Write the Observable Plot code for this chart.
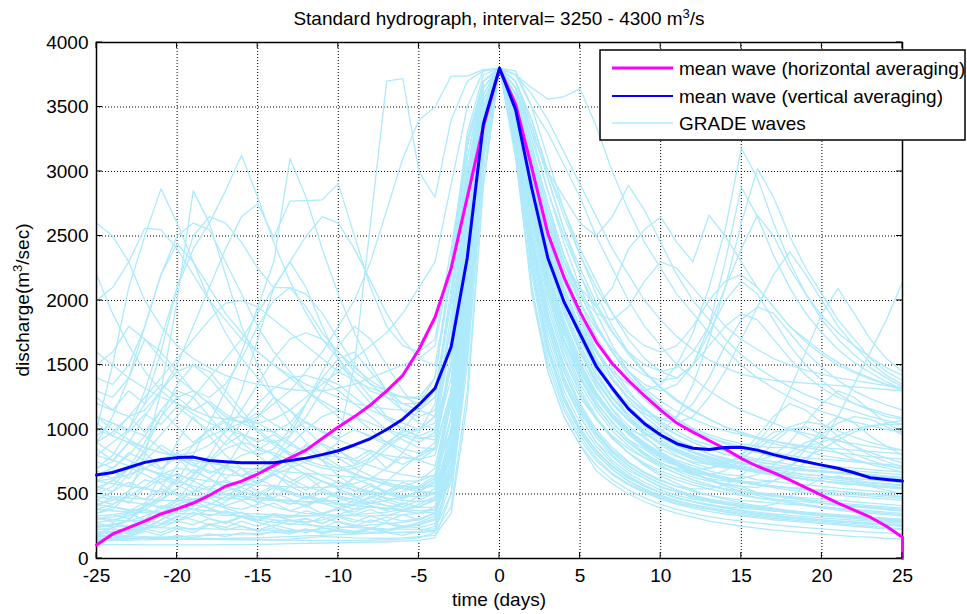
<!DOCTYPE html>
<html><head><meta charset="utf-8">
<script src="https://cdn.jsdelivr.net/npm/d3@7"></script>
<script src="https://cdn.jsdelivr.net/npm/@observablehq/plot@0.6"></script>
<style>body{margin:0;background:#fff}svg{display:block}</style>
</head><body><div id="chart"></div>
<script>
// ---- data ----
const peakDischarge = 3800;
const xTicks = [-25,-20,-15,-10,-5,0,5,10,15,20,25];
const yTicks = [0,500,1000,1500,2000,2500,3000,3500,4000];
const days = [-25,-24,-23,-22,-21,-20,-19,-18,-17,-16,-15,-14,-13,-12,-11,-10,-9,-8,-7,-6,-5,-4,-3,-2,-1,0,1,2,3,4,5,6,7,8,9,10,11,12,13,14,15,16,17,18,19,20,21,22,23,24,25];

// mean wave (horizontal averaging): days -25..25, then the final drop at day 25
const horizDays = [...days, 25];
const horizMean = [105,190,240,290,345,385,430,490,560,600,655,720,780,840,930,1020,1100,1190,1300,1420,1620,1870,2250,2800,3350,3800,3520,3030,2520,2180,1910,1680,1510,1380,1260,1150,1050,980,915,850,775,715,665,610,550,490,430,375,320,250,165,0];
// mean wave (vertical averaging): days -25..25
const vertMean = [647,667,705,745,768,782,786,760,750,742,742,742,760,778,805,835,880,930,1000,1080,1190,1320,1640,2330,3370,3800,3480,2870,2330,1990,1740,1490,1320,1160,1045,957,890,855,845,860,862,840,805,775,750,724,700,665,626,612,600];

// GRADE waves: rising limbs (days -25..-1)
const gradeRise = [
[180,175,170,168,165,160,158,155,150,150,148,145,150,160,170,165,160,158,155,160,170,180,350,1200,2900],
[420,450,520,610,580,500,460,430,400,380,420,520,700,880,760,640,560,500,470,450,440,460,800,1900,3300],
[900,820,760,700,650,600,560,530,500,480,470,460,450,440,430,420,420,430,450,480,520,600,1100,2400,3500],
[250,260,300,420,650,900,1100,950,800,700,620,560,510,480,450,430,410,400,390,380,370,380,600,1600,3200],
[1300,1250,1400,1700,1600,1450,1300,1200,1100,1050,1000,980,1050,1200,1400,1350,1250,1150,1100,1050,1000,1100,1700,2800,3600],
[600,580,560,540,520,500,490,480,470,460,455,450,445,440,440,450,470,520,600,700,800,900,1500,2600,3400],
[150,160,180,220,300,380,420,390,350,320,300,280,270,260,250,245,240,235,230,228,225,230,500,1500,3000],
[2200,1900,1650,1450,1300,1200,1120,1050,1000,960,920,900,950,1100,1300,1500,1400,1250,1100,1000,950,1000,1500,2500,3450],
[350,380,500,800,1300,2000,2850,2600,2200,1800,1500,1250,1050,900,800,720,660,610,570,540,520,510,800,1800,3250],
[700,750,900,1100,1300,1450,1500,1400,1250,1100,980,880,800,740,700,680,700,750,850,950,1000,1050,1700,2700,3500],
[200,210,220,230,260,320,400,520,700,900,1100,1250,1150,1000,880,780,700,640,590,550,520,500,900,2100,3400],
[480,460,440,420,400,390,380,370,360,350,345,340,335,330,330,335,340,350,360,380,400,450,700,1700,3100],
[1100,1050,1000,1200,1600,2100,2500,2650,2600,2450,2250,2100,2100,2050,1900,1700,1500,1350,1250,1150,1100,1150,1800,2900,3650],
[300,320,350,400,480,600,800,1050,1300,1600,1950,2300,3100,2800,2400,2050,1750,1500,1300,1150,1050,1000,1500,2500,3500],
[150,150,155,160,165,170,175,180,185,190,195,200,210,220,230,240,250,260,270,280,300,350,900,2100,3300],
[800,900,1000,950,850,780,720,680,650,640,680,780,950,1200,1450,1650,1800,1700,1500,1300,1150,1100,1900,3000,3700],
[500,560,700,900,1100,1250,1300,1200,1050,900,800,700,620,560,520,480,450,430,410,400,395,400,700,1800,3200],
[1500,1600,1800,1700,1550,1400,1300,1250,1350,1550,1800,2000,2100,1950,1750,1600,1450,1350,1300,1250,1200,1400,2300,3300,3750],
[260,250,245,240,238,235,232,230,228,225,222,220,218,215,212,210,208,205,203,200,200,210,400,1300,2900],
[650,700,800,950,1150,1300,1250,1100,950,850,800,850,1000,1200,1400,1550,1600,1450,1300,1200,1150,1250,2100,3200,3700],
[380,420,480,560,650,700,680,620,560,520,480,450,430,420,450,520,640,780,900,980,1000,1100,1800,2900,3550],
[1000,950,900,860,820,790,760,740,720,700,690,680,670,660,650,640,630,620,610,600,600,650,1200,2400,3450],
[220,240,300,400,550,720,880,1000,1080,1100,1050,980,900,820,760,700,650,610,580,560,550,560,900,2000,3350],
[900,1100,1400,1800,2200,2500,2600,2550,2300,2050,1800,1600,1450,1300,1200,1100,1000,950,900,850,820,850,1300,2500,3500],
[420,400,380,370,360,350,345,340,335,330,325,320,320,330,350,380,420,470,520,560,600,700,1300,2500,3450],
[170,180,200,240,300,360,420,470,500,480,440,400,370,350,340,335,330,330,335,340,350,380,650,1600,3150],
[1200,1150,1100,1150,1300,1500,1800,2100,2400,2650,2750,2490,2770,2775,2780,2906,2500,2100,1800,1650,1600,1700,2400,3200,3700],
[700,800,1000,1300,1700,2100,2400,2600,2850,3126,2800,2450,2150,1900,1700,1550,1400,1300,1250,1200,1200,1300,2000,3000,3650],
[1000,1500,2100,2500,2867,2600,2300,2000,1750,1550,1400,1250,1150,1050,980,920,870,830,800,780,770,800,1300,2500,3500],
[500,480,470,460,450,450,460,480,520,560,600,650,700,750,800,900,1500,2600,3700,3720,3000,2800,3400,3700,3780],
[600,620,650,700,760,820,880,950,1000,1050,1100,1200,1300,1450,1600,1800,2000,2300,2700,3100,3400,3500,3740,3740,3790],
[320,300,290,300,350,450,600,750,850,900,870,800,720,650,600,560,530,510,500,520,560,640,1100,2200,3400],
[140,140,142,145,148,150,150,152,155,158,160,165,170,175,180,185,190,195,200,205,210,220,600,1800,3200],
[1600,1500,1400,1320,1250,1200,1150,1100,1080,1060,1050,1080,1150,1250,1350,1450,1550,1650,1750,1900,2100,2300,2900,3500,3780],
[450,520,650,850,1100,1350,1500,1450,1300,1150,1000,900,820,760,720,700,720,780,880,1000,1150,1300,2000,3000,3650],
[240,260,290,330,380,440,520,620,720,800,840,820,760,700,640,590,550,520,500,490,480,500,850,2000,3350],
[2000,2100,2300,2560,2550,2400,2200,2000,1850,1700,1600,1500,1420,1350,1300,1250,1200,1180,1160,1150,1150,1250,2000,3100,3700],
[380,370,360,355,350,360,380,420,480,560,650,760,880,1000,1100,1150,1100,1000,900,820,760,720,1200,2400,3450],
[170,165,160,158,155,152,150,148,146,145,144,143,142,141,140,140,140,142,145,150,160,200,700,1900,3300],
[800,760,720,690,660,640,620,600,590,580,570,560,555,550,550,560,580,620,700,820,980,1200,2000,3000,3650],
[1400,1350,1500,1800,2200,2440,2300,2100,1900,1750,1600,1500,1400,1300,1220,1150,1100,1050,1000,960,930,950,1500,2700,3600],
[280,300,330,380,450,540,650,800,1000,1300,1700,2100,2300,2100,1800,1550,1350,1200,1080,1000,940,920,1400,2600,3550],
[1100,1000,920,860,820,800,820,880,980,1150,1350,1550,1700,1750,1700,1600,1480,1380,1300,1250,1250,1400,2200,3200,3700],
[550,600,700,820,960,1100,1250,1400,1550,1700,1900,2100,2300,2500,2650,2600,2400,2150,1900,1700,1550,1500,2200,3200,3700],
[2600,2500,2300,2000,1800,1650,1550,1480,1420,1380,1350,1330,1310,1300,1300,1320,1350,1400,1450,1500,1550,1650,2300,3250,3700],
[190,200,215,235,260,290,330,380,440,510,590,670,740,780,800,790,760,720,680,650,630,640,1000,2100,3400],
[900,980,1100,1250,1400,1550,1700,1850,1980,2000,1950,1850,1750,1650,1550,1450,1380,1320,1280,1250,1240,1300,2000,3100,3700],
[330,340,360,400,460,540,640,760,900,1050,1200,1320,1400,1420,1380,1300,1200,1100,1000,920,860,850,1300,2500,3500],
[110,108,107,106,105,105,105,106,107,108,110,112,115,118,120,122,125,128,130,135,140,160,500,1600,3100],
[230,225,220,260,340,420,460,430,390,350,320,300,290,285,300,340,380,400,390,370,350,360,700,1800,3300],
[320,280,350,300,410,380,450,390,330,360,300,340,290,310,270,330,300,280,320,290,310,350,900,2300,3450],
[520,610,560,700,640,580,690,620,540,600,520,470,560,500,450,520,480,430,500,460,520,600,1300,2700,3600],
[160,190,170,210,180,230,200,260,220,250,210,240,200,230,190,220,200,230,210,240,260,300,800,2000,3350],
[850,760,900,820,700,780,660,740,620,700,580,660,560,640,540,600,520,580,500,560,540,620,1200,2500,3550],
[400,480,430,550,500,620,540,480,560,500,430,510,460,400,470,420,380,450,410,370,420,480,1000,2300,3500],
[280,240,300,260,330,290,360,310,270,320,280,250,300,270,240,290,260,230,280,250,270,310,750,1900,3300],
[1050,950,1100,980,1150,1020,900,1000,880,960,840,920,800,880,760,850,730,820,700,790,760,850,1500,2800,3650],
[600,680,620,750,690,820,740,660,720,640,580,650,590,530,600,540,490,560,510,470,520,580,1100,2400,3500],
[200,230,210,260,240,290,260,310,280,330,300,350,320,370,340,390,360,410,380,430,400,460,1000,2200,3400],
[750,700,820,760,880,800,720,790,700,640,710,650,590,660,600,550,620,570,520,590,550,620,1250,2500,3550],
[130,150,140,170,150,180,160,190,170,200,180,210,190,220,200,230,210,240,220,250,240,270,650,1700,3200],
[450,420,500,460,540,490,430,470,410,450,390,430,370,410,350,390,340,380,330,370,350,400,950,2200,3450],
[950,1050,980,1120,1040,1180,1080,990,1060,970,900,960,880,820,890,830,770,840,780,730,790,860,1600,2900,3700],
[240,270,250,300,270,330,300,260,290,250,220,260,230,200,240,210,190,230,200,180,210,250,700,1900,3350],
[680,620,710,650,590,660,600,540,610,550,500,570,520,470,540,490,450,510,460,420,480,540,1100,2400,3500],
[350,400,370,430,390,460,420,490,450,520,480,550,500,460,510,470,430,480,440,400,450,510,1000,2300,3450],
[1250,1150,1300,1200,1350,1250,1150,1220,1120,1050,1130,1040,980,1060,990,930,1000,940,880,950,900,980,1700,2900,3700],
[180,210,190,230,200,250,220,270,240,290,250,300,260,310,270,320,280,330,290,340,300,350,850,2100,3400],
[560,520,590,540,620,570,510,560,500,450,510,460,420,480,430,390,450,410,370,430,400,460,1000,2300,3500],
[300,340,310,380,350,420,380,330,370,320,290,340,300,270,320,280,250,300,270,240,280,330,850,2100,3400]
];

// GRADE waves: falling limbs (days 1..25)
const gradeFall = [
[3100,2100,1450,1100,880,680,580,500,440,390,350,320,290,270,250,235,220,210,200,190,180,170,165,155,150],
[3500,2900,2300,1900,1600,1350,1150,1000,880,790,720,660,610,570,540,510,490,470,450,430,410,400,390,380,370],
[3400,2700,2100,1700,1400,1180,1020,900,800,720,660,610,570,530,500,470,450,430,410,390,375,360,350,340,330],
[3600,3100,2600,2200,1850,1550,1300,1100,950,830,740,670,610,560,520,490,460,440,420,400,385,370,360,350,340],
[3700,3400,3000,2700,2400,2150,1900,1700,1550,1450,1400,1500,1750,2000,2150,2050,1850,1650,1500,1380,1280,1200,1150,1100,1080],
[3300,2400,1800,1400,1150,960,820,720,640,580,530,490,460,430,410,390,370,355,340,330,320,310,300,290,280],
[3550,2950,2400,2000,1700,1450,1250,1100,980,880,800,740,700,720,800,950,1100,1200,1150,1050,950,870,800,750,710],
[3750,3500,3300,3050,2800,2500,2250,2000,1800,1650,1500,1400,1300,1220,1150,1100,1050,1000,970,940,910,890,870,850,840],
[3450,2800,2200,1750,1450,1220,1050,920,820,740,680,630,600,580,560,550,600,700,850,1000,1100,1050,950,870,800],
[3750,3650,3560,3580,3642,3350,3000,2700,2450,2250,2050,1900,1750,1620,1500,1400,1320,1250,1190,1140,1100,1060,1030,1000,980],
[3500,2900,2400,2050,1800,1600,1450,1350,1300,1350,1500,1750,2100,2550,3182,2950,2600,2300,2050,1850,1700,1580,1480,1400,1330],
[3400,2700,2100,1700,1450,1250,1100,1000,950,980,1100,1350,1700,2100,2600,3022,2800,2500,2250,2050,1850,1700,1550,1450,1380],
[3650,3300,3000,2800,2600,2500,2650,2893,2700,2450,2200,2000,1850,1700,1580,1480,1400,1330,1270,1220,1180,1140,1100,1070,1040],
[3500,3000,2600,2300,2100,1950,2100,2400,2550,2648,2450,2300,2661,2500,2300,2100,1950,1800,1700,1600,1520,1450,1400,1350,1300],
[3300,2500,1900,1500,1250,1080,950,850,780,730,700,690,700,740,800,900,1050,1300,1600,1900,2092,1900,1700,1550,1450],
[3400,2700,2150,1750,1450,1250,1100,980,880,800,740,690,650,620,600,590,600,650,750,900,1100,1350,1600,1850,2144],
[3550,3000,2500,2100,1800,1550,1380,1250,1150,1080,1050,1100,1250,1450,1700,1950,2200,2377,2200,2000,1800,1650,1520,1420,1350],
[3600,3150,2700,2350,2050,1800,1600,1450,1350,1300,1350,1500,1800,2300,2880,2650,2350,2100,1900,1750,1620,1520,1440,1370,1310],
[3250,2300,1650,1250,1000,830,710,620,560,510,470,440,410,390,370,350,335,320,310,300,290,280,270,262,255],
[3500,2850,2250,1800,1500,1270,1100,980,880,800,740,690,650,620,590,570,550,530,510,500,490,480,470,460,450],
[3450,2750,2150,1700,1400,1180,1020,900,810,740,690,660,650,680,760,880,980,1000,950,880,820,770,730,700,670],
[3700,3350,2950,2550,2200,1900,1650,1450,1300,1180,1080,1000,940,890,850,820,790,770,750,730,710,700,690,680,670],
[3200,2200,1550,1180,950,780,660,580,520,470,430,400,380,360,340,325,310,300,290,280,270,260,250,240,230],
[3650,3200,2750,2350,2000,1700,1480,1300,1160,1050,960,900,850,810,780,760,800,900,1050,1200,1300,1250,1150,1050,980],
[3550,2950,2450,2050,1750,1500,1300,1150,1030,940,870,820,780,750,730,720,710,700,690,680,670,660,650,640,630],
[3350,2550,1950,1550,1280,1080,930,820,740,680,630,590,560,540,520,500,490,480,470,460,450,440,430,420,410],
[3700,3400,3000,2650,2350,2100,1900,1750,1650,1600,1650,1800,2000,2150,2200,2100,1950,1800,1680,1580,1500,1440,1390,1350,1320],
[3600,3100,2650,2300,2050,1900,1850,1950,2150,2300,2250,2100,1950,1800,1700,1620,1550,1500,1460,1430,1400,1380,1360,1340,1320],
[3300,2450,1800,1380,1100,900,760,660,590,530,490,460,440,420,410,400,420,480,560,620,640,600,560,530,500],
[3780,3500,3100,2700,2350,2050,1800,1600,1450,1330,1230,1150,1080,1020,970,930,890,860,830,800,780,760,740,720,700],
[3400,2650,2050,1620,1320,1100,940,820,720,640,580,530,490,460,430,410,390,370,355,340,330,320,310,300,290],
[3500,2900,2350,1950,1650,1420,1250,1120,1020,940,880,830,790,760,740,730,740,780,860,960,1050,1100,1080,1020,960],
[3150,2050,1450,1100,880,720,610,530,470,420,380,350,325,305,290,275,262,250,240,230,220,212,205,198,192],
[3750,3600,3400,3150,2900,2650,2400,2200,2000,1850,1720,1620,1540,1480,1430,1400,1380,1370,1360,1350,1340,1330,1320,1310,1300],
[3450,2800,2250,1850,1550,1330,1160,1030,930,850,790,750,730,740,780,850,940,1020,1060,1040,990,940,900,870,840],
[3350,2600,2000,1580,1290,1080,930,820,730,660,610,570,540,510,490,470,460,450,440,430,420,410,400,390,380],
[3600,3050,2600,2250,1980,1780,1620,1500,1420,1380,1400,1500,1650,1800,1900,1850,1700,1550,1420,1320,1250,1200,1160,1120,1090],
[3250,2350,1700,1300,1050,870,740,640,570,510,470,440,420,400,390,380,370,360,350,340,330,320,310,300,290],
[3500,2850,2300,1900,1600,1370,1200,1070,970,890,830,780,740,710,690,680,690,720,780,850,920,980,1020,1050,1070],
[3700,3300,2850,2450,2100,1820,1600,1420,1280,1170,1080,1010,960,920,890,870,860,860,870,900,950,1000,1030,1040,1040],
[3400,2700,2150,1750,1460,1250,1090,970,870,790,730,680,640,610,590,570,560,550,540,530,520,510,500,490,480],
[3300,2450,1850,1450,1180,980,840,740,660,600,560,540,540,570,640,760,900,1000,1020,960,880,810,760,720,690],
[3550,3000,2500,2100,1780,1530,1330,1180,1060,960,880,820,770,730,700,680,670,660,650,640,630,620,610,600,590],
[3200,2250,1620,1230,980,810,690,600,530,480,440,410,385,365,350,335,320,310,300,290,280,272,265,258,250],
[3650,3250,2850,2500,2200,1950,1750,1600,1500,1450,1480,1600,1800,2100,2400,2660,2500,2250,2050,1880,1750,1650,1560,1480,1420],
[3450,2750,2200,1780,1480,1260,1090,960,860,780,720,670,640,620,620,650,720,820,900,940,920,870,820,780,740],
[3350,2500,1900,1480,1200,1000,860,750,670,610,560,520,490,470,450,440,430,420,410,400,390,380,370,360,350],
[3600,3100,2650,2250,1900,1620,1400,1230,1100,1000,920,860,810,770,740,720,700,690,680,670,660,650,640,630,620],
[3150,2100,1500,1150,920,760,650,570,510,460,420,390,365,345,330,315,300,290,280,270,260,250,240,230,225],
[3500,2900,2400,2000,1700,1480,1320,1200,1120,1080,1100,1200,1400,1650,1850,1950,1900,1750,1600,1480,1380,1300,1240,1190,1150],
[3400,2700,2100,1700,1420,1200,1060,920,850,760,720,650,620,570,560,510,500,470,460,430,420,400,395,380,370],
[3550,2950,2400,2000,1700,1480,1300,1180,1060,990,910,870,810,780,740,720,690,670,650,640,620,610,590,580,570],
[3300,2400,1750,1350,1100,900,790,680,620,550,520,470,450,420,400,390,370,360,345,340,325,320,310,305,300],
[3600,3100,2600,2200,1880,1620,1440,1280,1170,1060,990,920,880,830,800,770,750,730,710,700,690,680,670,660,650],
[3450,2750,2200,1800,1500,1280,1120,990,900,820,760,720,680,650,640,610,600,580,570,560,545,535,525,515,505],
[3250,2300,1650,1260,1010,840,720,630,560,510,470,440,415,395,375,360,345,335,325,315,305,298,290,283,276],
[3650,3200,2750,2350,2050,1800,1600,1450,1320,1220,1140,1080,1030,990,960,930,910,890,870,860,850,840,830,820,810],
[3500,2850,2300,1900,1600,1380,1200,1070,970,890,820,770,730,700,720,690,650,640,610,600,580,570,560,550,540],
[3400,2650,2050,1650,1350,1150,990,870,780,710,660,610,570,540,520,500,480,470,455,445,430,420,410,400,390],
[3600,3050,2550,2150,1850,1600,1400,1250,1130,1030,960,900,850,810,780,750,730,710,690,680,665,650,640,630,620],
[3200,2250,1600,1220,980,810,690,600,540,490,450,420,395,375,360,345,330,320,310,300,292,284,276,270,264],
[3500,2900,2350,1950,1650,1420,1240,1100,1000,920,850,800,760,720,690,670,650,630,615,600,590,580,570,560,550],
[3700,3350,2950,2550,2250,1980,1760,1580,1440,1320,1220,1140,1080,1020,980,940,910,880,860,840,820,805,790,780,770],
[3350,2500,1880,1450,1170,970,830,720,640,580,530,490,460,440,420,400,385,370,360,350,340,330,320,312,305],
[3550,3000,2480,2070,1760,1510,1320,1170,1050,960,890,830,780,740,710,690,670,650,630,620,605,595,585,575,565],
[3450,2800,2250,1830,1520,1290,1120,990,890,810,750,700,660,630,600,580,560,545,530,520,505,495,485,475,465],
[3600,3150,2700,2300,1980,1720,1520,1360,1230,1130,1050,990,940,900,870,840,820,800,780,770,760,750,740,730,720],
[3300,2450,1820,1400,1130,940,800,700,620,560,515,480,450,425,405,390,375,362,350,340,330,322,315,308,300],
[3500,2880,2330,1920,1620,1390,1210,1080,980,900,840,790,750,715,690,665,645,630,615,600,590,580,570,560,550],
[3400,2650,2080,1680,1390,1180,1020,900,810,740,690,650,620,600,590,570,560,550,540,530,520,510,500,490,480]
];

// ---- build tables ----
const gradeData = [];
gradeRise.forEach((rise, i) => {
  rise.forEach((q, j) => gradeData.push({id: i, day: j - rise.length, q}));
  gradeData.push({id: i, day: 0, q: peakDischarge});
  (gradeFall[i] || []).forEach((q, j) => gradeData.push({id: i, day: j + 1, q}));
});
const horizData = horizMean.map((q, i) => ({day: horizDays[i], q}));
const vertData = vertMean.map((q, i) => ({day: days[i], q}));

// ---- layout ----
const W = 967, H = 614, mL = 96, mR = 65, mT = 42, mB = 56;
const FONT = "'Liberation Sans', Arial, Helvetica, sans-serif";
const FS = 19;

const chart = Plot.plot({
  width: W, height: H,
  marginLeft: mL, marginRight: mR, marginTop: mT, marginBottom: mB,
  style: {fontFamily: FONT, fontSize: FS + "px", background: "#fff", color: "#000", overflow: "visible"},
  x: {domain: [-25, 25]},
  y: {domain: [0, 4000]},
  marks: [
    Plot.ruleX(xTicks, {x: d => d, stroke: "#000", strokeWidth: 1, strokeDasharray: "1,2"}),
    Plot.ruleY(yTicks, {y: d => d, stroke: "#000", strokeWidth: 1, strokeDasharray: "1,2"}),
    Plot.line(gradeData, {x: "day", y: "q", z: "id", stroke: "#aeeafb", strokeWidth: 1.3, curve: "linear"}),
    Plot.frame({stroke: "#000", strokeWidth: 1.5}),
    Plot.line(horizData, {x: "day", y: "q", stroke: "#ff00ff", strokeWidth: 3}),
    Plot.line(vertData, {x: "day", y: "q", stroke: "#0000ff", strokeWidth: 3}),
    Plot.axisX({ticks: xTicks, tickSize: 0, tickPadding: 10, tickFormat: d => String(d), label: null, fontSize: FS}),
    Plot.axisY({ticks: yTicks, tickSize: 0, tickPadding: 8, tickFormat: d => String(d), label: null, fontSize: FS})
  ]
});
document.getElementById("chart").appendChild(chart);

// ---- decorations via plot scales ----
const svg = d3.select(chart);
const sxs = chart.scale("x"), sys = chart.scale("y");
const X = v => sxs.apply(v), Y = v => sys.apply(v);
const x0 = X(-25), x1 = X(25), y0 = Y(0), y1 = Y(4000);
const deco = svg.append("g").attr("stroke", "#000").attr("stroke-width", 1);
const TL = 6;
xTicks.forEach(t => {
  deco.append("line").attr("x1", X(t)).attr("x2", X(t)).attr("y1", y0).attr("y2", y0 - TL);
  deco.append("line").attr("x1", X(t)).attr("x2", X(t)).attr("y1", y1).attr("y2", y1 + TL);
});
yTicks.forEach(t => {
  deco.append("line").attr("y1", Y(t)).attr("y2", Y(t)).attr("x1", x0).attr("x2", x0 + TL);
  deco.append("line").attr("y1", Y(t)).attr("y2", Y(t)).attr("x1", x1).attr("x2", x1 - TL);
});

const txt = svg.append("g").attr("font-family", FONT).attr("fill", "#000");
// title
const title = txt.append("text").attr("x", (x0 + x1) / 2).attr("y", 25).attr("text-anchor", "middle").attr("font-size", FS);
title.append("tspan").text("Standard hydrograph, interval= 3250 - 4300 m");
title.append("tspan").attr("dy", -7).attr("font-size", 13).text("3");
title.append("tspan").attr("dy", 7).text("/s");
// x label
txt.append("text").attr("x", (x0 + x1) / 2).attr("y", 606).attr("text-anchor", "middle").attr("font-size", FS).text("time (days)");
// y label
const yl = txt.append("text").attr("transform", `translate(29,${(y0 + y1) / 2}) rotate(-90)`).attr("text-anchor", "middle").attr("font-size", FS);
yl.append("tspan").text("discharge(m");
yl.append("tspan").attr("dy", -7).attr("font-size", 13).text("3");
yl.append("tspan").attr("dy", 7).text("/sec)");

// legend
const lg = svg.append("g");
lg.append("rect").attr("x", 600).attr("y", 50).attr("width", 365).attr("height", 90)
  .attr("fill", "#fff").attr("stroke", "#000").attr("stroke-width", 1.5);
const legendItems = [
  {label: "mean wave (horizontal averaging)", color: "#ff00ff", w: 3, y: 68},
  {label: "mean wave (vertical averaging)", color: "#0000ff", w: 2, y: 96},
  {label: "GRADE waves", color: "#aeeafb", w: 1.5, y: 123}
];
legendItems.forEach(it => {
  lg.append("line").attr("x1", 612).attr("x2", 673).attr("y1", it.y).attr("y2", it.y)
    .attr("stroke", it.color).attr("stroke-width", it.w);
  lg.append("text").attr("x", 679).attr("y", it.y).attr("dy", "0.36em").attr("text-anchor", "start")
    .attr("font-family", FONT).attr("font-size", FS).attr("fill", "#000").text(it.label);
});
</script>
</body></html>
